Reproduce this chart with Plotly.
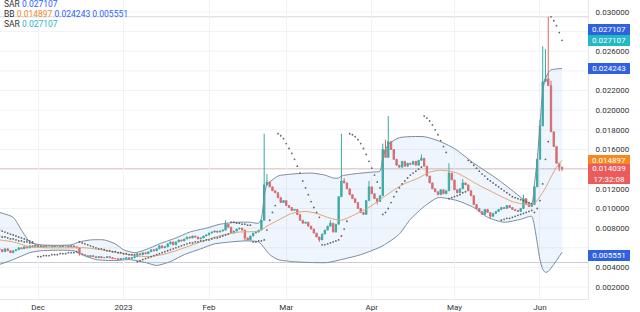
import datetime as dt
import plotly.graph_objects as go

# ---------------- data ----------------
start_day = "2022-11-17"
first_open = 0.0059

close_nov = [0.0058, 0.0056, 0.0059, 0.0057, 0.0055, 0.0057, 0.0058, 0.0060, 0.0059, 0.0061,
             0.0060, 0.0062, 0.0061, 0.0063]
close_dec = [0.0061, 0.0062, 0.0061, 0.0062, 0.0062, 0.0061, 0.0062, 0.0062, 0.0061, 0.0062,
             0.0062, 0.0061, 0.0062, 0.0061, 0.0060, 0.0054, 0.0053, 0.0052, 0.0051, 0.0052,
             0.0051, 0.0050, 0.0051, 0.0050, 0.0050, 0.0051, 0.0050, 0.0049, 0.0049, 0.0048,
             0.0049]
close_jan = [0.0049, 0.0050, 0.0049, 0.0050, 0.0051, 0.0054, 0.0053, 0.0055, 0.0054, 0.0056,
             0.0058, 0.0057, 0.0059, 0.0062, 0.0060, 0.0061, 0.0064, 0.0066, 0.0063, 0.0066,
             0.0068, 0.0067, 0.0069, 0.0071, 0.0070, 0.0072, 0.0071, 0.0069, 0.0070, 0.0072,
             0.0073]
close_feb = [0.0075, 0.0076, 0.0077, 0.0076, 0.0077, 0.0078, 0.0084, 0.0081, 0.0075, 0.0077,
             0.0079, 0.0080, 0.0078, 0.0070, 0.0068, 0.0072, 0.0075, 0.0076, 0.0078, 0.0088,
             0.0124, 0.0127, 0.0122, 0.0118, 0.0116, 0.0111, 0.0106, 0.0108]
close_mar = [0.0103, 0.0101, 0.0098, 0.0099, 0.0094, 0.0088, 0.0085, 0.0086, 0.0082, 0.0079,
             0.0075, 0.0071, 0.0068, 0.0074, 0.0078, 0.0082, 0.0085, 0.0076, 0.0084, 0.0112,
             0.0128, 0.0126, 0.0120, 0.0114, 0.0110, 0.0106, 0.0100, 0.0096, 0.0094, 0.0108,
             0.0122]
close_apr = [0.0115, 0.0110, 0.0107, 0.0113, 0.0160, 0.0152, 0.0168, 0.0160, 0.0150, 0.0144,
             0.0142, 0.0148, 0.0143, 0.0146, 0.0145, 0.0148, 0.0144, 0.0149, 0.0151, 0.0143,
             0.0133, 0.0126, 0.0120, 0.0117, 0.0114, 0.0119, 0.0115, 0.0118, 0.0136, 0.0129]
close_may = [0.0119, 0.0116, 0.0120, 0.0126, 0.0124, 0.0118, 0.0113, 0.0104, 0.0100, 0.0097,
             0.0094, 0.0099, 0.0096, 0.0092, 0.0095, 0.0097, 0.0099, 0.0101, 0.0100, 0.0103,
             0.0101, 0.0099, 0.0098, 0.0097, 0.0100, 0.0110, 0.0105, 0.0102, 0.0104, 0.0122,
             0.0150]
close_jun = [0.0184, 0.0229, 0.0232, 0.0225, 0.0178, 0.0163, 0.0146, 0.0142, 0.014039]

# notable wicks (everything else has no visible wick)
high_wicks = {"2023-02-07": 0.0088, "2023-02-21": 0.0176, "2023-02-22": 0.0135,
              "2023-03-17": 0.0088, "2023-03-21": 0.0176, "2023-03-22": 0.0131,
              "2023-03-31": 0.0128, "2023-04-05": 0.0166, "2023-04-06": 0.0170,
              "2023-04-07": 0.0194, "2023-04-19": 0.0155, "2023-04-29": 0.0146,
              "2023-05-04": 0.0130, "2023-05-26": 0.0114, "2023-06-01": 0.0190,
              "2023-06-02": 0.0265, "2023-06-03": 0.0262, "2023-06-04": 0.0295,
              "2023-06-05": 0.0230}
low_wicks = {"2022-12-16": 0.0052, "2023-02-14": 0.0067, "2023-03-13": 0.0066,
             "2023-04-03": 0.0104, "2023-05-14": 0.0090, "2023-06-08": 0.0138,
             "2023-06-09": 0.0138}

# Bollinger Bands (read points)
bb_upper_dates = ["2022-11-17", "2022-11-22", "2022-11-25", "2022-11-28", "2022-12-02", "2022-12-13",
                  "2022-12-16", "2022-12-20", "2022-12-25", "2022-12-29", "2023-01-01", "2023-01-05",
                  "2023-01-09", "2023-01-14", "2023-01-20", "2023-01-25", "2023-01-31", "2023-02-05",
                  "2023-02-11", "2023-02-16", "2023-02-19", "2023-02-20", "2023-02-21", "2023-02-22",
                  "2023-02-26", "2023-03-03", "2023-03-10", "2023-03-15", "2023-03-18", "2023-03-20",
                  "2023-03-21", "2023-03-25", "2023-04-01", "2023-04-04", "2023-04-05", "2023-04-07",
                  "2023-04-11", "2023-04-20", "2023-04-25", "2023-05-01", "2023-05-08", "2023-05-16",
                  "2023-05-23", "2023-05-27", "2023-05-29", "2023-05-30", "2023-05-31", "2023-06-01",
                  "2023-06-02", "2023-06-03", "2023-06-04", "2023-06-05", "2023-06-07", "2023-06-09"]
bb_upper = [0.0096, 0.0091, 0.0078, 0.0066, 0.0063, 0.0063,
            0.0066, 0.0068, 0.0068, 0.0064, 0.0058, 0.0055,
            0.0058, 0.0064, 0.0070, 0.0076, 0.0080, 0.0084,
            0.0086, 0.0086, 0.0085, 0.0090, 0.0112, 0.0124,
            0.0133, 0.0135, 0.0136, 0.0134, 0.0131, 0.0131,
            0.0133, 0.0135, 0.0137, 0.0138, 0.0152, 0.0165,
            0.0172, 0.0173, 0.0169, 0.0161, 0.0146, 0.0131,
            0.0116, 0.0107, 0.0105, 0.0125, 0.0150, 0.0185,
            0.0220, 0.0232, 0.0238, 0.0241, 0.0242, 0.024243]

bb_mid_dates = ["2022-11-17", "2022-11-22", "2022-11-28", "2022-12-05", "2022-12-13", "2022-12-18",
                "2022-12-24", "2022-12-30", "2023-01-05", "2023-01-10", "2023-01-15", "2023-01-20",
                "2023-01-25", "2023-01-31", "2023-02-06", "2023-02-12", "2023-02-19", "2023-02-22",
                "2023-02-26", "2023-03-03", "2023-03-08", "2023-03-12", "2023-03-17", "2023-03-21",
                "2023-03-26", "2023-03-31", "2023-04-05", "2023-04-12", "2023-04-18", "2023-04-22",
                "2023-04-26", "2023-05-02", "2023-05-09", "2023-05-16", "2023-05-22", "2023-05-27",
                "2023-05-30", "2023-06-01", "2023-06-03", "2023-06-05", "2023-06-07", "2023-06-09"]
bb_mid = [0.0068, 0.0066, 0.0061, 0.0060, 0.0060, 0.0060,
          0.0058, 0.0055, 0.0052, 0.0051, 0.0053, 0.0057,
          0.0062, 0.0068, 0.0073, 0.0076, 0.0077, 0.0082,
          0.0088, 0.0095, 0.0097, 0.0095, 0.0090, 0.0088,
          0.0094, 0.0101, 0.0111, 0.0124, 0.0131, 0.0137,
          0.0139, 0.0136, 0.0125, 0.0115, 0.0107, 0.0104,
          0.0105, 0.0112, 0.0121, 0.0132, 0.0142, 0.014897]

bb_lower_dates = ["2022-11-17", "2022-11-22", "2022-11-28", "2022-12-02", "2022-12-14", "2022-12-17",
                  "2022-12-22", "2022-12-29", "2023-01-03", "2023-01-09", "2023-01-13", "2023-01-18",
                  "2023-01-23", "2023-01-29", "2023-02-03", "2023-02-09", "2023-02-14", "2023-02-19",
                  "2023-02-21", "2023-02-23", "2023-02-26", "2023-03-03", "2023-03-10", "2023-03-16",
                  "2023-03-21", "2023-03-28", "2023-04-05", "2023-04-11", "2023-04-15", "2023-04-20",
                  "2023-04-25", "2023-05-02", "2023-05-08", "2023-05-13", "2023-05-19", "2023-05-25",
                  "2023-05-29", "2023-05-30", "2023-05-31", "2023-06-01", "2023-06-02", "2023-06-03",
                  "2023-06-04", "2023-06-06", "2023-06-09"]
bb_lower = [0.0043, 0.0048, 0.0055, 0.0057, 0.0057, 0.0053,
            0.0048, 0.0047, 0.0048, 0.0045, 0.0042, 0.0046,
            0.0053, 0.0059, 0.0064, 0.0066, 0.0067, 0.0066,
            0.0060, 0.0053, 0.0048, 0.0046, 0.0045, 0.0045,
            0.0048, 0.0053, 0.0062, 0.0074, 0.0089, 0.0102,
            0.0111, 0.0108, 0.0101, 0.0091, 0.0086, 0.0089,
            0.0092, 0.0082, 0.0065, 0.0048, 0.0038, 0.0035,
            0.0036, 0.0043, 0.005551]

# Parabolic SAR dots: (first day, consecutive daily values)
sar_segments = [
    ("2022-11-17", [0.0078, 0.0077, 0.0076, 0.0075, 0.0074, 0.0073, 0.0072, 0.0071, 0.0070, 0.0069,
                    0.0068, 0.0067, 0.0066]),
    ("2022-11-17", [0.0072, 0.0071, 0.0071, 0.0070, 0.0069, 0.0069, 0.0068, 0.0067, 0.0067, 0.0066,
                    0.0066, 0.0065, 0.0065]),
    ("2022-12-01", [0.0051, 0.0051, 0.0052, 0.0052, 0.0052, 0.0053, 0.0053, 0.0053, 0.0054, 0.0054,
                    0.0054, 0.0055, 0.0055, 0.0055, 0.0056]),
    ("2022-12-16", [0.0066, 0.0065, 0.0064, 0.0063, 0.0062, 0.0061, 0.0060, 0.0059, 0.0059, 0.0058,
                    0.0057, 0.0057, 0.0056, 0.0056, 0.0055, 0.0055, 0.0054, 0.0054, 0.0053, 0.0053,
                    0.0053]),
    ("2023-01-06", [0.0046, 0.0047, 0.0048, 0.0049, 0.0050, 0.0051, 0.0052, 0.0053, 0.0054, 0.0055,
                    0.0056, 0.0057, 0.0058, 0.0059, 0.0060, 0.0061, 0.0062, 0.0063, 0.0064, 0.0065,
                    0.0065, 0.0066, 0.0066, 0.0067, 0.0067, 0.0068, 0.0068, 0.0069, 0.0070, 0.0070,
                    0.0071, 0.0072, 0.0073, 0.0074]),
    ("2023-02-09", [0.0086, 0.0086, 0.0085, 0.0085, 0.0084, 0.0084, 0.0083, 0.0083]),
    ("2023-02-17", [0.0066, 0.0066, 0.0067, 0.0067, 0.0068, 0.0078, 0.0088, 0.0096, 0.0103]),
    ("2023-02-26", [0.0176, 0.0174, 0.0171, 0.0166, 0.0161, 0.0156, 0.0150, 0.0143, 0.0136, 0.0128,
                    0.0121, 0.0114, 0.0107, 0.0101, 0.0096, 0.0091]),
    ("2023-03-14", [0.0063, 0.0063, 0.0064, 0.0065, 0.0066, 0.0067, 0.0068, 0.0072, 0.0079, 0.0087]),
    ("2023-03-24", [0.0176, 0.0175, 0.0173, 0.0170, 0.0166, 0.0161, 0.0155, 0.0148, 0.0141, 0.0134,
                    0.0127, 0.0121]),
    ("2023-04-05", [0.0094, 0.0096, 0.0100, 0.0106, 0.0112, 0.0117, 0.0121, 0.0125, 0.0128, 0.0131,
                    0.0134, 0.0136, 0.0138, 0.0140, 0.0142]),
    ("2023-04-20", [0.0194, 0.0192, 0.0189, 0.0185, 0.0180, 0.0175, 0.0169, 0.0163, 0.0157]),
    ("2023-04-29", [0.0110, 0.0111, 0.0112, 0.0113, 0.0114, 0.0116, 0.0117]),
    ("2023-05-06", [0.0149, 0.0147, 0.0144, 0.0141, 0.0138, 0.0135, 0.0133, 0.0130, 0.0128, 0.0126,
                    0.0124, 0.0122, 0.0120, 0.0118, 0.0116, 0.0114, 0.0112, 0.0111, 0.0110, 0.0109,
                    0.0108, 0.0107, 0.0106, 0.0105]),
    ("2023-05-18", [0.0088, 0.0089, 0.0090, 0.0090, 0.0091, 0.0092, 0.0093, 0.0094, 0.0095, 0.0096,
                    0.0097, 0.0098]),
    ("2023-05-30", [0.0096, 0.0100, 0.0108, 0.0125, 0.0150, 0.0168]),
    ("2023-06-05", [0.0295, 0.0291, 0.0286, 0.0279, 0.027107]),
]

sar_last = 0.027107
hline_levels = [0.0295, 0.0045]

x_tick_dates = ["2022-12-01", "2023-01-01", "2023-02-01", "2023-03-01",
                "2023-04-01", "2023-05-01", "2023-06-01"]
x_tick_text = ["Dec", "2023", "Feb", "Mar", "Apr", "May", "Jun"]
# ticks whose labels are not covered by the value boxes on the price scale
y_ticks = [0.002, 0.004, 0.008, 0.010, 0.012, 0.016,
           0.018, 0.020, 0.022, 0.026, 0.030]
y_grid = [0.002, 0.004, 0.006, 0.008, 0.010, 0.012, 0.014, 0.016,
          0.018, 0.020, 0.022, 0.024, 0.026, 0.028, 0.030]

# ---------------- build series ----------------
closes = close_nov + close_dec + close_jan + close_feb + close_mar + close_apr + close_may + close_jun
d0 = dt.date.fromisoformat(start_day)
dates = [d0 + dt.timedelta(days=i) for i in range(len(closes))]
opens = [first_open] + closes[:-1]
highs = [max(o, c, high_wicks.get(d.isoformat(), 0.0)) for d, o, c in zip(dates, opens, closes)]
lows = [min(o, c, low_wicks.get(d.isoformat(), 1.0)) for d, o, c in zip(dates, opens, closes)]

sar_x, sar_y = [], []
for s, vals in sar_segments:
    sd = dt.date.fromisoformat(s)
    for i, v in enumerate(vals):
        sar_x.append(sd + dt.timedelta(days=i))
        sar_y.append(v)

# ---------------- styling ----------------
UP = "#33ab9a"
DOWN = "#e5625f"
BAND = "#7a8ba0"
MID = "#e2a574"
FONT = "Roboto"
GRID = "#f0f2f5"

fig = go.Figure()

fig.add_trace(go.Scatter(x=bb_upper_dates, y=bb_upper, mode="lines",
                         line=dict(color=BAND, width=1, shape="spline", smoothing=0.6),
                         hoverinfo="skip", showlegend=False))
fig.add_trace(go.Scatter(x=bb_lower_dates, y=bb_lower, mode="lines",
                         line=dict(color=BAND, width=1, shape="spline", smoothing=0.6),
                         fill="tonexty", fillcolor="rgba(120,180,230,0.13)",
                         hoverinfo="skip", showlegend=False))
fig.add_trace(go.Scatter(x=bb_mid_dates, y=bb_mid, mode="lines",
                         line=dict(color=MID, width=1, shape="spline", smoothing=0.6),
                         hoverinfo="skip", showlegend=False))

fig.add_trace(go.Candlestick(
    x=dates, open=opens, high=highs, low=lows, close=closes,
    increasing=dict(line=dict(color=UP, width=1), fillcolor=UP),
    decreasing=dict(line=dict(color=DOWN, width=1), fillcolor=DOWN),
    whiskerwidth=0, showlegend=False))

fig.add_trace(go.Scatter(x=sar_x, y=sar_y, mode="markers",
                         marker=dict(color="#5f646b", size=1.8),
                         hoverinfo="skip", showlegend=False))

shapes = []
for g in y_grid:
    shapes.append(dict(type="line", xref="paper", x0=0, x1=1, yref="y", y0=g, y1=g,
                       line=dict(color=GRID, width=1), layer="below"))
for lv, col in zip(hline_levels, ["#d6d6d6", "#c9ccd2"]):
    shapes.append(dict(type="line", xref="paper", x0=0, x1=1, yref="y", y0=lv, y1=lv,
                       line=dict(color=col, width=1), layer="below"))
shapes.append(dict(type="line", xref="paper", x0=0, x1=1, yref="y", y0=closes[-1], y1=closes[-1],
                   line=dict(color="#dcc3c3", width=1), layer="below"))

annotations = []
# legend lines top-left
leg_lines = [
    "SAR <span style='color:#2962ff'>%.6f</span>" % sar_last,
    "BB <span style='color:#f08c2e'>%.6f</span> <span style='color:#2962ff'>%.6f</span> "
    "<span style='color:#2962ff'>%.6f</span>" % (bb_mid[-1], bb_upper[-1], bb_lower[-1]),
    "SAR <span style='color:#26b8c6'>%.6f</span>" % sar_last,
]
for i, t in enumerate(leg_lines):
    annotations.append(dict(text=t, xref="paper", yref="paper", x=0, y=1, xanchor="left",
                            yanchor="top", xshift=3, yshift=2 - 10 * i, showarrow=False,
                            font=dict(family=FONT, size=8.5, color="#333"), borderpad=0))

# right axis value labels
right_labels = [
    ("%.6f" % sar_last, sar_last, "#2f62e0", 11),
    ("%.6f" % sar_last, sar_last, "#22b8c4", 0),
    ("%.6f" % bb_upper[-1], bb_upper[-1], "#2f62e0", 0),
    ("%.6f" % bb_mid[-1], bb_mid[-1], "#f5891f", 0),
    ("%.6f" % bb_lower[-1], bb_lower[-1], "#2f62e0", -3),
]
for t, v, col, ys in right_labels:
    annotations.append(dict(text=t, xref="paper", yref="y", x=1, y=v, xanchor="left",
                            yanchor="middle", yshift=ys, showarrow=False, width=40, height=9,
                            bgcolor=col, bordercolor=col, borderpad=0,
                            font=dict(family=FONT, size=8, color="white")))
annotations.append(dict(text="%.6f<br>17:32:08" % closes[-1], xref="paper", yref="y", x=1,
                        y=closes[-1], xanchor="left", yanchor="top", yshift=5, showarrow=False,
                        width=40, height=18, bgcolor="#ec5b5b", bordercolor="#ec5b5b",
                        borderpad=0, font=dict(family=FONT, size=8, color="white")))

fig.update_layout(
    width=640, height=312,
    margin=dict(l=0, r=52, t=0, b=10),
    paper_bgcolor="white", plot_bgcolor="white",
    shapes=shapes, annotations=annotations,
    showlegend=False,
    font=dict(family=FONT, size=8, color="#333"),
    xaxis=dict(range=["2022-11-17 05:00", "2023-06-18 10:00"], rangeslider=dict(visible=False),
               tickvals=x_tick_dates, ticktext=x_tick_text, showgrid=True, gridcolor=GRID,
               gridwidth=1, showline=True, linecolor="#e4e6ea", linewidth=1, ticks="",
               tickfont=dict(family=FONT, size=8, color="#333"), zeroline=False),
    yaxis=dict(range=[0.000791, 0.031209], side="right", tickvals=y_ticks, tickformat=".6f",
               showgrid=False, showline=True,
               linecolor="#e4e6ea", linewidth=1, ticks="", ticklabelstandoff=5,
               tickfont=dict(family=FONT, size=8, color="#333"), zeroline=False),
)

fig.write_html("out.html")
